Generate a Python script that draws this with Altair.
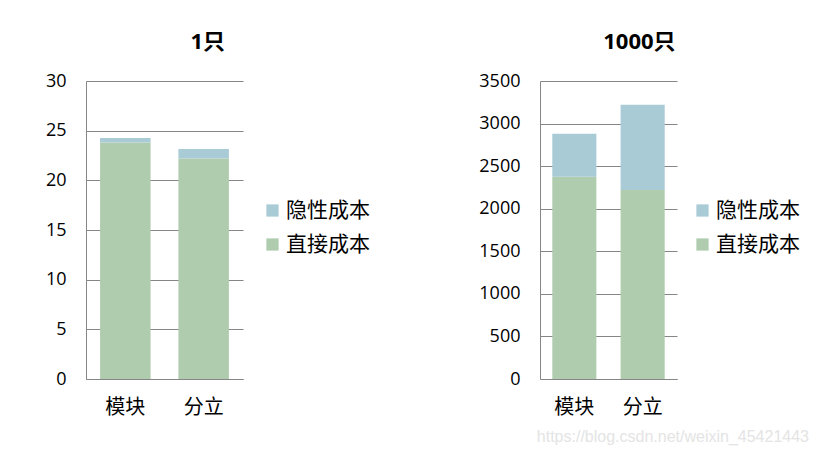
import altair as alt
import pandas as pd

categories = ["模块", "分立"]
series = ["直接成本", "隐性成本"]
legend_order = ["隐性成本", "直接成本"]
colors = ["#A9CBD6", "#AFCCAF"]

one_direct = [23.8, 22.2]
one_hidden = [0.45, 0.95]
k_direct = [2375, 2220]
k_hidden = [505, 1000]

titles = ["1只", "1000只"]
y_max = [30, 3500]
y_step = [5, 500]
watermark = "https://blog.csdn.net/weixin_45421443"

FONT = "Open Sans, Noto Sans CJK SC, sans-serif"
CJK = "Noto Sans CJK SC, sans-serif"
GRID = "#868686"


def make_df(direct, hidden):
    rows = []
    for i, c in enumerate(categories):
        rows.append({"cat": c, "series": "直接成本", "value": direct[i], "ord": 0})
        rows.append({"cat": c, "series": "隐性成本", "value": hidden[i], "ord": 1})
    return pd.DataFrame(rows)


def panel(df, title, ymax, ystep, width, lx):
    return (
        alt.Chart(df, title=alt.TitleParams(title, frame="bounds", anchor="middle",
                                            fontSize=22, fontWeight="bold", font=FONT,
                                            color="#000000", offset=18))
        .mark_bar()
        .encode(
            x=alt.X("cat:N", sort=categories, title=None,
                    scale=alt.Scale(paddingInner=0.355, paddingOuter=0.18),
                    axis=alt.Axis(labelAngle=0, labelFontSize=20, labelFont=CJK,
                                  labelColor="#000000", ticks=False, labelPadding=18,
                                  grid=False, domainColor=GRID, domainWidth=1)),
            y=alt.Y("value:Q", stack="zero", title=None,
                    scale=alt.Scale(domain=[0, ymax], nice=False),
                    axis=alt.Axis(values=list(range(0, ymax + 1, ystep)), format="d",
                                  labelFontSize=18,
                                  labelFont=FONT, labelColor="#000000", ticks=False,
                                  labelPadding=20, grid=True, gridColor=GRID,
                                  domainColor=GRID, domainWidth=1)),
            color=alt.Color("series:N",
                            scale=alt.Scale(domain=legend_order, range=colors),
                            legend=alt.Legend(title=None, orient="none", legendX=lx,
                                              legendY=119, symbolType="square",
                                              symbolSize=150, symbolStrokeWidth=0,
                                              labelFontSize=21, labelFont=CJK,
                                              labelColor="#000000", labelOffset=3,
                                              rowPadding=12, labelLimit=300)),
            order=alt.Order("ord:Q"),
        )
        .properties(width=width, height=298, view=alt.ViewConfig(stroke="transparent", strokeWidth=0))
    )


left = panel(make_df(one_direct, one_hidden), titles[0], y_max[0], y_step[0], 157, 176)
right = panel(make_df(k_direct, k_hidden), titles[1], y_max[1], y_step[1], 137, 152)

chart = (
    alt.hconcat(left, right, spacing=108)
    .resolve_scale(color="independent", y="independent", x="independent")
    .resolve_legend(color="independent")
    .properties(
        padding={"left": 45, "top": 31, "right": 5, "bottom": 5},
        title=alt.TitleParams(watermark, orient="bottom", anchor="end", fontSize=16,
                              font="Liberation Sans, Arial, sans-serif", color="#E4E4E4",
                              fontWeight="normal", offset=12, dx=9),
    )
    .configure_view(strokeWidth=0, stroke="transparent")
    .configure(background="#FFFFFF")
)

chart.save("out.html", embed_options={"renderer": "svg", "actions": False})
